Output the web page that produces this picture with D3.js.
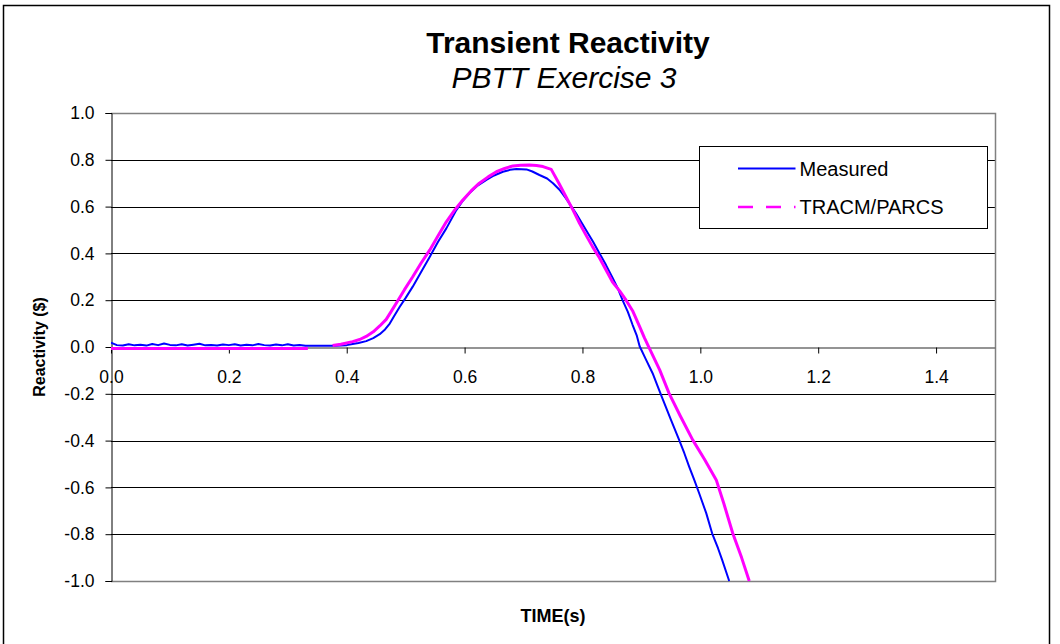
<!DOCTYPE html>
<html>
<head>
<meta charset="utf-8">
<script src="https://cdn.jsdelivr.net/npm/d3@7"></script>
<style>
  body { margin: 0; background: #fff; }
  svg { display: block; font-family: Arial, "Liberation Sans", sans-serif; }
</style>
</head>
<body>
<div id="vis"></div>
<script>
// values
var measuredTime = [0.00,0.01,0.02,0.03,0.04,0.05,0.06,0.07,0.08,0.09,0.10,0.11,0.12,0.13,0.14,0.15,0.16,0.17,0.18,0.19,0.20,0.21,0.22,0.23,0.24,0.25,0.26,0.27,0.28,0.29,0.30,0.31,0.32,0.33,
  0.35,0.38,0.40,0.41,0.42,0.433,0.445,0.456,0.465,0.473,0.48,0.49,0.50,0.512,0.525,0.541,0.555,0.569,0.586,0.597,0.608,0.622,0.637,0.65,0.665,0.677,0.688,0.705,0.715,0.727,0.74,0.75,0.761,0.772,0.789,0.806,0.818,0.829,0.84,0.851,0.86,0.868,0.877,0.885,0.892,0.897,0.908,0.919,0.928,0.936,0.95,0.964,0.973,0.981,0.99,0.998,1.01,1.02,1.03,1.037,1.049];
var measuredValue = [0.018,0.008,0.006,0.012,0.007,0.010,0.006,0.013,0.008,0.015,0.009,0.007,0.012,0.006,0.010,0.014,0.007,0.009,0.006,0.011,0.008,0.012,0.006,0.010,0.007,0.013,0.008,0.006,0.011,0.007,0.012,0.006,0.009,0.005,
  0.005,0.005,0.008,0.013,0.017,0.025,0.038,0.055,0.075,0.10,0.13,0.172,0.21,0.258,0.315,0.386,0.45,0.507,0.585,0.625,0.657,0.69,0.714,0.733,0.749,0.757,0.761,0.759,0.75,0.735,0.72,0.70,0.672,0.635,0.571,0.50,0.45,0.40,0.35,0.296,0.25,0.20,0.15,0.095,0.05,0.003,-0.055,-0.112,-0.17,-0.222,-0.31,-0.397,-0.455,-0.511,-0.57,-0.625,-0.71,-0.796,-0.86,-0.91,-1.0];

var tracTime = [0.00,0.334,0.35,
  0.376,0.39,0.41,0.422,0.433,0.445,0.456,0.467,0.475,0.484,0.498,0.512,0.526,0.541,0.555,0.569,0.583,0.597,0.611,0.625,0.64,0.654,0.668,0.682,0.695,0.71,0.722,0.733,0.747,0.76,0.772,0.784,0.795,0.806,0.817,0.829,0.84,0.851,0.863,0.874,0.885,0.897,0.905,0.914,0.931,0.947,0.966,0.987,1.007,1.027,1.04,1.055,1.07,1.083];
var tracValue = [-0.006,-0.006,null,
  0.006,0.012,0.023,0.032,0.045,0.065,0.09,0.118,0.15,0.187,0.245,0.30,0.358,0.415,0.475,0.535,0.585,0.628,0.667,0.70,0.727,0.749,0.763,0.774,0.777,0.778,0.776,0.771,0.759,0.70,0.642,0.585,0.529,0.478,0.429,0.38,0.329,0.278,0.24,0.20,0.155,0.087,0.04,-0.008,-0.098,-0.198,-0.295,-0.397,-0.48,-0.568,-0.67,-0.796,-0.90,-1.0];

var xTicks = [0.0,0.2,0.4,0.6,0.8,1.0,1.2,1.4];
var yTicks = [-1.0,-0.8,-0.6,-0.4,-0.2,0.0,0.2,0.4,0.6,0.8,1.0];
var seriesNames = ['Measured', 'TRACM/PARCS'];
var seriesColors = ['#0000ff', '#ff00ff'];

var width = 1060, height = 644;
var margin = { top: 113, left: 111, right: 65, bottom: 62 };
var fontFamily = 'Arial, "Liberation Sans", sans-serif';

// excel style labels use a plain hyphen for negatives
var fmt = function (d) { return d3.format('.1f')(d).replace('\u2212', '-'); };

var svg = d3.select('#vis').append('svg').attr('width', width).attr('height', height);

// outer chart border
svg.append('rect')
  .attr('x', 3.5).attr('y', 5.5)
  .attr('width', 1046).attr('height', 660)
  .attr('fill', 'none').attr('stroke', '#000').attr('stroke-width', 1.5);

var x = d3.scaleLinear().domain([0, 1.5]).range([margin.left, width - margin.right]);
var y = d3.scaleLinear().domain([-1, 1]).range([height - margin.bottom - 1, margin.top]);

var g = svg.append('g');

// gridlines
g.selectAll('.grid')
  .data(yTicks.filter(function (d) { return d !== 0 && Math.abs(d) !== 1; }))
  .enter().append('line')
  .attr('x1', x(0)).attr('x2', x(1.5))
  .attr('y1', function (d) { return Math.round(y(d)) + 0.5; })
  .attr('y2', function (d) { return Math.round(y(d)) + 0.5; })
  .attr('stroke', '#000').attr('stroke-width', 1);

// plot area border (top, right, bottom)
g.append('path')
  .attr('d', 'M' + x(0) + ',' + (Math.round(y(1)) + 0.5) +
    'H' + (Math.round(x(1.5)) + 0.5) +
    'V' + (Math.round(y(-1)) + 0.5) +
    'H' + x(0))
  .attr('fill', 'none').attr('stroke', '#808080').attr('stroke-width', 1.5);

// y axis
var yAxis = g.append('g')
  .attr('transform', 'translate(' + (Math.round(x(0)) + 0.5) + ',0)')
  .call(d3.axisLeft(y).tickValues(yTicks).tickFormat(fmt).tickSize(6).tickPadding(11));
yAxis.select('.domain').attr('stroke', '#000');
yAxis.selectAll('.tick line').attr('stroke', '#000');
yAxis.selectAll('text').attr('font-size', 17.5).attr('fill', '#000').attr('font-family', fontFamily);

// x axis at zero
var xAxis = g.append('g')
  .attr('transform', 'translate(0,' + (Math.round(y(0)) + 0.5) + ')')
  .call(d3.axisBottom(x).tickValues(xTicks).tickFormat(fmt).tickSize(6).tickSizeOuter(0).tickPadding(17));
xAxis.select('.domain').attr('stroke', '#707070').attr('stroke-width', 1.5);
xAxis.selectAll('.tick line').attr('stroke', '#000');
xAxis.selectAll('text').attr('font-size', 17.5).attr('fill', '#000').attr('font-family', fontFamily);

// series
svg.append('clipPath').attr('id', 'plotclip').append('rect')
  .attr('x', x(0)).attr('y', y(1) - 2).attr('width', x(1.5) - x(0)).attr('height', y(-1) - y(1) + 3);

var line = d3.line()
  .defined(function (d) { return d[1] !== null; })
  .x(function (d) { return x(d[0]); })
  .y(function (d) { return y(d[1]); });

var measured = measuredTime.map(function (t, i) { return [t, measuredValue[i]]; });
var trac = tracTime.map(function (t, i) { return [t, tracValue[i]]; });

var lines = g.append('g').attr('clip-path', 'url(#plotclip)');
lines.append('path').datum(measured)
  .attr('d', line).attr('fill', 'none')
  .attr('stroke', seriesColors[0]).attr('stroke-width', 2).attr('stroke-linejoin', 'round');
lines.append('path').datum(trac)
  .attr('d', line).attr('fill', 'none')
  .attr('stroke', seriesColors[1]).attr('stroke-width', 3).attr('stroke-linejoin', 'round');

// titles
svg.append('text')
  .attr('x', 568).attr('y', 53)
  .attr('text-anchor', 'middle').attr('font-size', 30).attr('font-weight', 'bold')
  .text('Transient Reactivity');
svg.append('text')
  .attr('x', 564).attr('y', 88)
  .attr('text-anchor', 'middle').attr('font-size', 30).attr('font-style', 'italic')
  .text('PBTT Exercise 3');

svg.append('text')
  .attr('transform', 'translate(45,' + y(0) + ') rotate(-90)')
  .attr('text-anchor', 'middle').attr('font-size', 16).attr('font-weight', 'bold')
  .text('Reactivity ($)');
svg.append('text')
  .attr('x', 553).attr('y', 622)
  .attr('text-anchor', 'middle').attr('font-size', 18).attr('font-weight', 'bold')
  .text('TIME(s)');

// legend
var legend = svg.append('g').attr('transform', 'translate(699.5,146.5)');
legend.append('rect')
  .attr('width', 288).attr('height', 82)
  .attr('fill', '#fff').attr('stroke', '#000').attr('stroke-width', 1);

seriesNames.forEach(function (name, i) {
  var ly = 22 + i * 38.5;
  legend.append('line')
    .attr('x1', 38.5).attr('x2', 96).attr('y1', ly).attr('y2', ly)
    .attr('stroke', seriesColors[i]).attr('stroke-width', i === 0 ? 2 : 2.5)
    .attr('stroke-dasharray', i === 0 ? null : '15,13');
  legend.append('text')
    .attr('x', 100).attr('y', ly + 7)
    .attr('font-size', 20)
    .text(name);
});
</script>
</body>
</html>
